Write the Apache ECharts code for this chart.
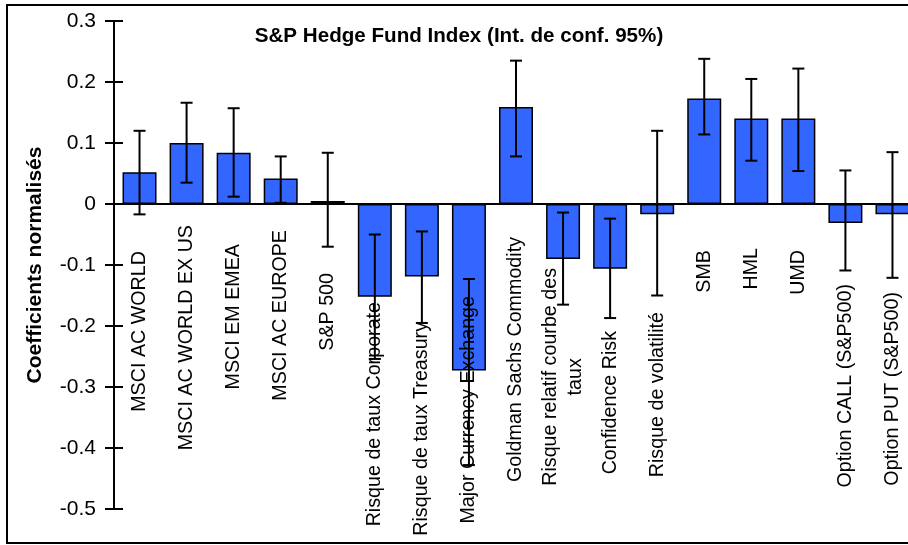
<!DOCTYPE html>
<html>
<head>
<meta charset="utf-8">
<script src="https://cdn.jsdelivr.net/npm/echarts@6/dist/echarts.min.js"></script>
<style>
    html, body { margin: 0; padding: 0; background: #fff; }
    #chart { width: 908px; height: 545px; }
</style>
</head>
<body>
<div id="chart"></div>
<script>
const categories = [
    'MSCI AC WORLD', 'MSCI AC WORLD EX US', 'MSCI EM EMEA', 'MSCI AC EUROPE', 'S&P 500',
    'Risque de taux Corporate', 'Risque de taux Treasury', 'Major Currency Exchange',
    'Goldman Sachs Commodity', 'Risque relatif courbe des\ntaux', 'Confidence Risk',
    'Risque de volatilité', 'SMB', 'HML', 'UMD', 'Option CALL (S&P500)', 'Option PUT (S&P500)'
];
const coefficients = [0.052, 0.100, 0.084, 0.042, 0.005, -0.152, -0.119, -0.273, 0.159,
    -0.090, -0.106, -0.017, 0.173, 0.140, 0.140, -0.031, -0.017];
const ciLow = [-0.017, 0.035, 0.012, 0.002, -0.070, -0.254, -0.195, -0.428, 0.078,
    -0.165, -0.187, -0.150, 0.114, 0.071, 0.054, -0.109, -0.121];
const ciHigh = [0.120, 0.166, 0.157, 0.078, 0.084, -0.050, -0.045, -0.123, 0.235,
    -0.014, -0.024, 0.120, 0.238, 0.205, 0.222, 0.055, 0.085];

// distance des libellés sous la ligne zéro (px)
const labelGap = [47, 21, 40, 26, 69, 98, 118, 92, 33, 64, 127, 108, 46, 44, 46, 80, 88];

const FONT = 'Liberation Sans, Arial, sans-serif';

const rich = {};
labelGap.forEach((g, i) => {
    rich['a' + i] = { padding: [0, g, 0, 0], fontSize: 19.7, lineHeight: 25, color: '#000', fontFamily: FONT };
    rich['c' + i] = { padding: [0, g, 0, 0], fontSize: 19.7, lineHeight: 25, color: '#000', fontFamily: FONT, align: 'center' };
});

const errData = categories.map((c, i) => [i, ciLow[i], ciHigh[i]]);

var myChart = echarts.init(document.getElementById('chart'));
var option = {
    animation: false,
    title: {
        text: 'S&P Hedge Fund Index (Int. de conf. 95%)',
        left: 454,
        top: 21,
        textAlign: 'center',
        textStyle: { fontFamily: FONT, fontSize: 20.6, fontWeight: 'bold', color: '#000' }
    },
    graphic: [{
        type: 'rect',
        shape: { x: 7, y: 5, width: 930, height: 538 },
        style: { fill: null, stroke: '#000', lineWidth: 2 },
        z: 10
    }],
    grid: { left: 116, top: 21, width: 800, height: 488, containLabel: false, outerBoundsMode: 'none' },
    xAxis: {
        type: 'category',
        data: categories,
        z: 3,
        axisLine: { onZero: true, lineStyle: { color: '#000', width: 2 } },
        axisTick: { show: false },
        axisLabel: {
            interval: 0,
            rotate: 90,
            margin: 0,
            formatter: function (value, idx) {
                return value.split('\n').map((s, k) => '{' + (k === 0 ? 'a' : 'c') + idx + '|' + s + '}').join('\n');
            },
            rich: rich
        }
    },
    yAxis: [
        {
            type: 'value',
            min: -0.5,
            max: 0.3,
            interval: 0.1,
            offset: 2,
            name: 'Coefficients normalisés',
            nameLocation: 'middle',
            nameGap: 68,
            nameTextStyle: { fontFamily: FONT, fontSize: 21, fontWeight: 'bold', color: '#000' },
            axisLine: { show: true, lineStyle: { color: '#000', width: 2 } },
            axisTick: { show: true, length: 9, lineStyle: { color: '#000', width: 2 } },
            axisLabel: { margin: 18, fontFamily: FONT, fontSize: 21, color: '#000' },
            splitLine: { show: false }
        },
        {
            type: 'value',
            min: -0.5,
            max: 0.3,
            interval: 0.1,
            offset: 2,
            position: 'left',
            axisLine: { show: false },
            axisTick: { show: true, inside: true, length: 9, lineStyle: { color: '#000', width: 2 } },
            axisLabel: { show: false },
            splitLine: { show: false }
        }
    ],
    series: [
        {
            type: 'bar',
            data: coefficients,
            barWidth: 34,
            itemStyle: { color: '#3366ff', borderColor: '#000', borderWidth: 1.5 }
        },
        {
            type: 'custom',
            data: errData,
            z: 5,
            renderItem: function (params, api) {
                const x = api.value(0);
                const lo = api.coord([x, api.value(1)]);
                const hi = api.coord([x, api.value(2)]);
                const cap = 6;
                const st = { stroke: '#000', lineWidth: 2 };
                return {
                    type: 'group',
                    children: [
                        { type: 'line', shape: { x1: lo[0], y1: lo[1], x2: hi[0], y2: hi[1] }, style: st },
                        { type: 'line', shape: { x1: lo[0] - cap, y1: lo[1], x2: lo[0] + cap, y2: lo[1] }, style: st },
                        { type: 'line', shape: { x1: hi[0] - cap, y1: hi[1], x2: hi[0] + cap, y2: hi[1] }, style: st }
                    ]
                };
            }
        }
    ]
};
myChart.setOption(option);

// les libellés restent en bas de la grille : on les remonte jusqu'à la ligne zéro
const zeroY = myChart.convertToPixel({ yAxisIndex: 0 }, 0);
const bottomY = myChart.convertToPixel({ yAxisIndex: 0 }, -0.5);
myChart.setOption({ xAxis: { axisLabel: { margin: zeroY - bottomY } } });

window.addEventListener('resize', () => {
    myChart.resize()
})
</script>
</body>
</html>
